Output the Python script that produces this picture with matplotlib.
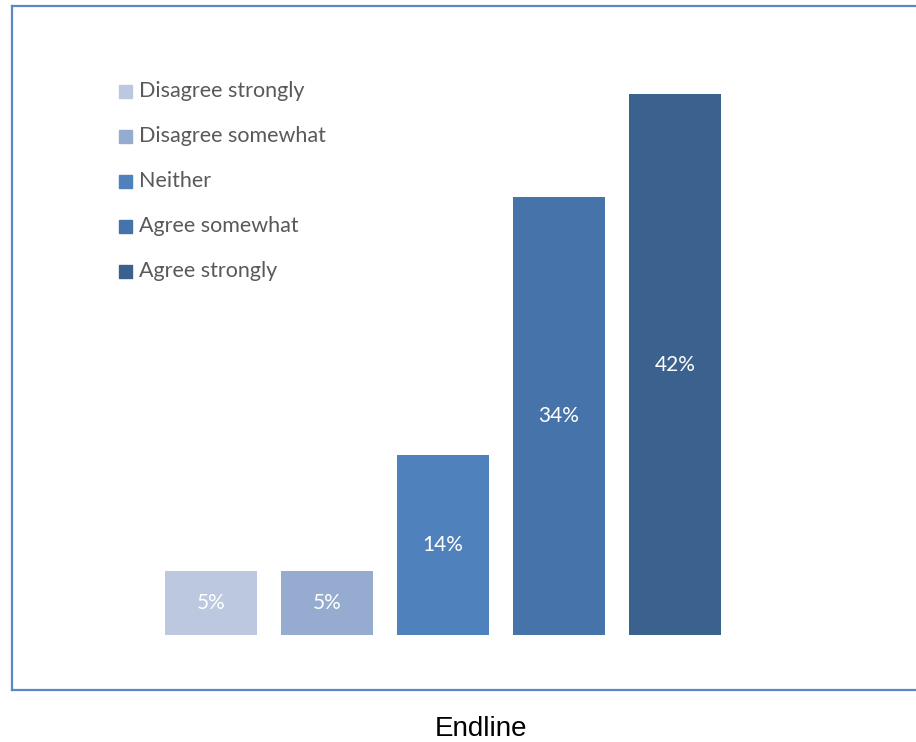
import matplotlib.pyplot as plt
from matplotlib.patches import Rectangle

categories = ['Disagree strongly', 'Disagree somewhat', 'Neither', 'Agree somewhat', 'Agree strongly']
values = [5, 5, 14, 34, 42]
colors = ['#BBC8DF', '#95ACD0', '#4F81BD', '#4573AA', '#3B618E']

W, H = 916, 742
fig = plt.figure(figsize=(W / 100, H / 100), dpi=100)

# axes frame doubles as the chart border
left, top, bottom, right = 12, 6, 690, 926
ax = fig.add_axes([left / W, 1 - bottom / H, (right - left) / W, (bottom - top) / H])
x0, step, scale, base = 211, 116, 12.88, 635
ax.set_xlim((left - x0) / step, (right - x0) / step)
ax.set_ylim(-(bottom - base) / scale, (base - top) / scale)
ax.set_xticks([])
ax.set_yticks([])
for s in ax.spines.values():
    s.set_color('#5B87C5')
    s.set_linewidth(1.6)

xs = range(len(values))
ax.bar(xs, values, width=92 / step, color=colors, zorder=2)
for x, v in zip(xs, values):
    ax.text(x, v / 2, f'{v}%', ha='center', va='center', color='white',
            fontsize=15, family='Lato')

# legend drawn by hand at the top left
for i, (name, c) in enumerate(zip(categories, colors)):
    y = 91 + 45 * i
    fig.patches.append(Rectangle((119 / W, 1 - (y + 7) / H), 13 / W, 13 / H,
                                 transform=fig.transFigure, color=c))
    fig.text(139 / W, 1 - y / H, name, ha='left', va='center', color='#595959',
             fontsize=15.5, family='Lato')

fig.text(481 / W, 1 - 736 / H, 'Endline', ha='center', va='baseline',
         fontsize=20, family='Liberation Sans', color='black')

fig.savefig('out.png', dpi=100)
